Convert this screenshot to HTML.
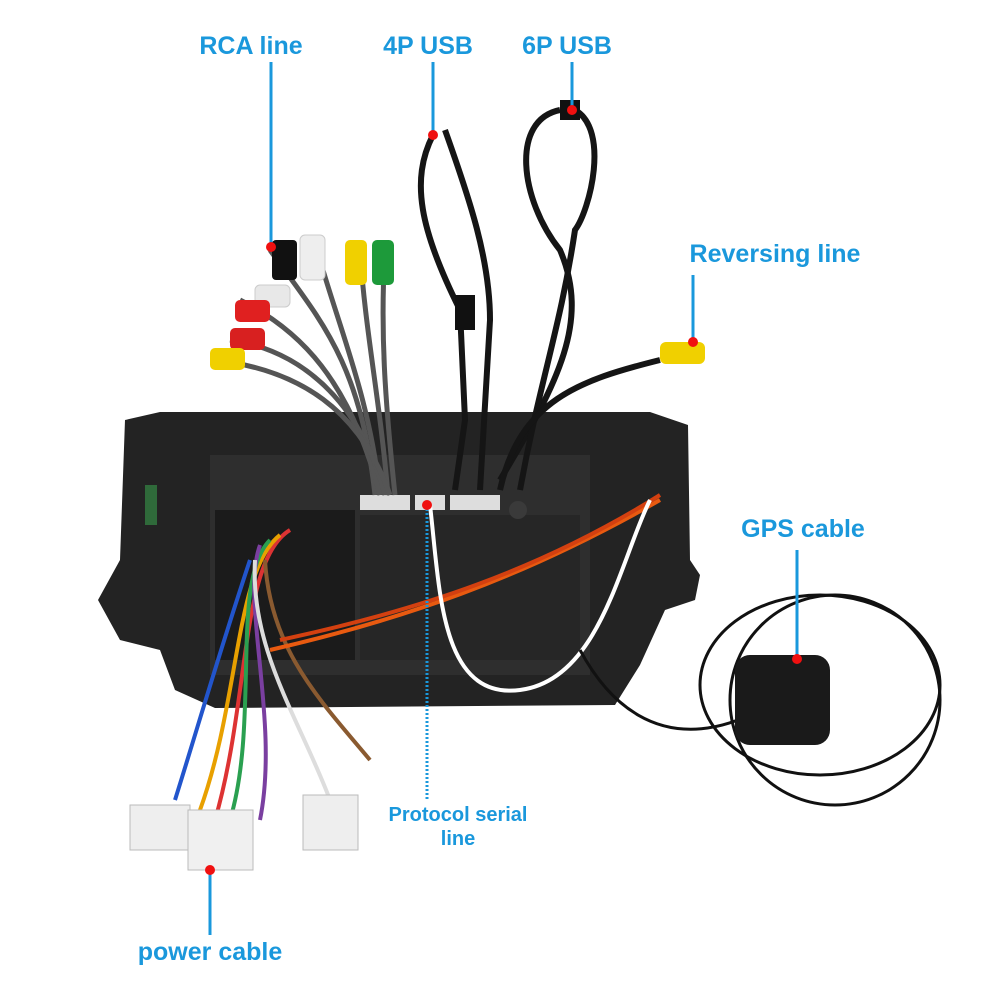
<!DOCTYPE html>
<html><head><style>
body{margin:0;background:#fff;}
.w{position:relative;width:1000px;height:1000px;overflow:hidden;font-family:"Liberation Sans","DejaVu Sans",sans-serif;}
.t{position:absolute;color:#1a98dc;font-weight:bold;font-size:25px;white-space:nowrap;transform:translateX(-50%);}
</style></head><body><div class="w">
<svg width="1000" height="1000" style="position:absolute;left:0;top:0">
<!-- head unit -->
<path d="M125 420 L160 412 L650 412 L688 425 L690 560 L700 575 L695 600 L665 610 L640 665 L615 705 L215 708 L175 690 L160 650 L120 640 L98 600 L120 560 Z" fill="#232323"/>
<rect x="210" y="455" width="380" height="220" fill="#2e2e2e"/>
<rect x="215" y="510" width="140" height="150" fill="#1b1b1b"/>
<rect x="360" y="515" width="220" height="145" fill="#262626"/>
<rect x="145" y="485" width="12" height="40" fill="#2f6a3a"/>
<!-- connectors -->
<rect x="360" y="495" width="50" height="15" fill="#ddd"/>
<rect x="415" y="495" width="30" height="15" fill="#ddd"/>
<rect x="450" y="495" width="50" height="15" fill="#ddd"/>
<circle cx="518" cy="510" r="9" fill="#3a3a3a"/>
<!-- USB cables -->
<g fill="none" stroke="#151515" stroke-width="6">
<path d="M433 135 C410 180 420 230 460 310 L465 420 L455 490"/>
<path d="M445 130 C470 200 490 260 490 320 L480 490"/>
<path d="M560 110 C510 120 520 200 560 250 C590 320 560 380 500 480"/>
<path d="M575 110 C610 130 590 210 575 230 C560 330 540 380 520 490"/>
<path d="M660 360 C580 380 520 400 500 490"/>
</g>
<rect x="455" y="295" width="20" height="35" fill="#111"/>
<rect x="560" y="100" width="20" height="20" fill="#111"/>
<!-- RCA bundle -->
<g fill="none" stroke="#555" stroke-width="5">
<path d="M270 250 C320 320 360 360 375 495"/>
<path d="M320 260 C340 330 370 400 380 495"/>
<path d="M360 250 C365 330 380 400 388 495"/>
<path d="M385 250 C380 330 385 400 395 495"/>
<path d="M240 300 C300 330 350 380 380 495"/>
<path d="M230 340 C300 350 360 400 385 495"/>
<path d="M215 360 C300 370 360 410 390 495"/>
</g>
<rect x="300" y="235" width="25" height="45" rx="5" fill="#eee" stroke="#ccc"/>
<rect x="345" y="240" width="22" height="45" rx="5" fill="#f0d000"/>
<rect x="372" y="240" width="22" height="45" rx="5" fill="#1d9a3a"/>
<rect x="255" y="285" width="35" height="22" rx="5" fill="#e8e8e8" stroke="#ccc"/>
<rect x="235" y="300" width="35" height="22" rx="5" fill="#e02020"/>
<rect x="230" y="328" width="35" height="22" rx="5" fill="#d82020"/>
<rect x="210" y="348" width="35" height="22" rx="5" fill="#f0d000"/>
<rect x="272" y="240" width="25" height="40" rx="4" fill="#111"/>
<!-- reversing -->
<rect x="660" y="342" width="45" height="22" rx="6" fill="#f0d000"/>
<!-- power harness -->
<g fill="none" stroke-width="4">
<path d="M290 530 C240 560 250 700 215 820" stroke="#d33"/>
<path d="M280 535 C235 570 240 700 200 810" stroke="#e8a000"/>
<path d="M270 540 C230 580 260 720 230 820" stroke="#2aa050"/>
<path d="M260 545 C240 600 280 720 260 820" stroke="#7a3fa0"/>
<path d="M255 560 C250 650 300 720 330 800" stroke="#ddd"/>
<path d="M265 560 C270 650 320 700 370 760" stroke="#8a5a30"/>
<path d="M250 560 C220 650 200 720 175 800" stroke="#2255cc"/>
<path d="M270 650 C400 620 520 580 660 500" stroke="#e85a10"/>
<path d="M280 640 C420 610 540 570 660 495" stroke="#d34010"/>
<path d="M430 505 C440 590 440 700 520 690 C600 680 620 560 650 500" stroke="#fff"/>
</g>
<rect x="130" y="805" width="60" height="45" fill="#eee" stroke="#bbb"/>
<rect x="188" y="810" width="65" height="60" fill="#f0f0f0" stroke="#bbb"/>
<rect x="303" y="795" width="55" height="55" fill="#eee" stroke="#bbb"/>
<!-- GPS -->
<path d="M580 650 C650 780 760 720 800 680" fill="none" stroke="#111" stroke-width="3"/>
<ellipse cx="820" cy="685" rx="120" ry="90" fill="none" stroke="#111" stroke-width="3"/>
<ellipse cx="835" cy="700" rx="105" ry="105" fill="none" stroke="#111" stroke-width="3"/>
<rect x="735" y="655" width="95" height="90" rx="15" fill="#1a1a1a"/>
<!-- indicator lines -->
<g stroke="#1a98dc" stroke-width="3">
<line x1="271" y1="62" x2="271" y2="245"/>
<line x1="433" y1="62" x2="433" y2="133"/>
<line x1="572" y1="62" x2="572" y2="110"/>
<line x1="693" y1="275" x2="693" y2="340"/>
<line x1="797" y1="550" x2="797" y2="657"/>
<line x1="210" y1="870" x2="210" y2="935"/>
<line x1="427" y1="505" x2="427" y2="800" stroke-dasharray="2 2"/>
</g>
<g fill="#f01010">
<circle cx="271" cy="247" r="5"/><circle cx="433" cy="135" r="5"/><circle cx="572" cy="110" r="5"/>
<circle cx="693" cy="342" r="5"/><circle cx="797" cy="659" r="5"/><circle cx="210" cy="870" r="5"/><circle cx="427" cy="505" r="5"/>
</g>
</svg>
<div class="t" style="left:251px;top:32px">RCA line</div>
<div class="t" style="left:428px;top:32px">4P USB</div>
<div class="t" style="left:567px;top:32px">6P USB</div>
<div class="t" style="left:775px;top:240px">Reversing line</div>
<div class="t" style="left:803px;top:515px">GPS cable</div>
<div class="t" style="left:458px;top:803px;font-size:20px;text-align:center;line-height:24px">Protocol serial<br>line</div>
<div class="t" style="left:210px;top:938px">power cable</div>
</div></body></html>
